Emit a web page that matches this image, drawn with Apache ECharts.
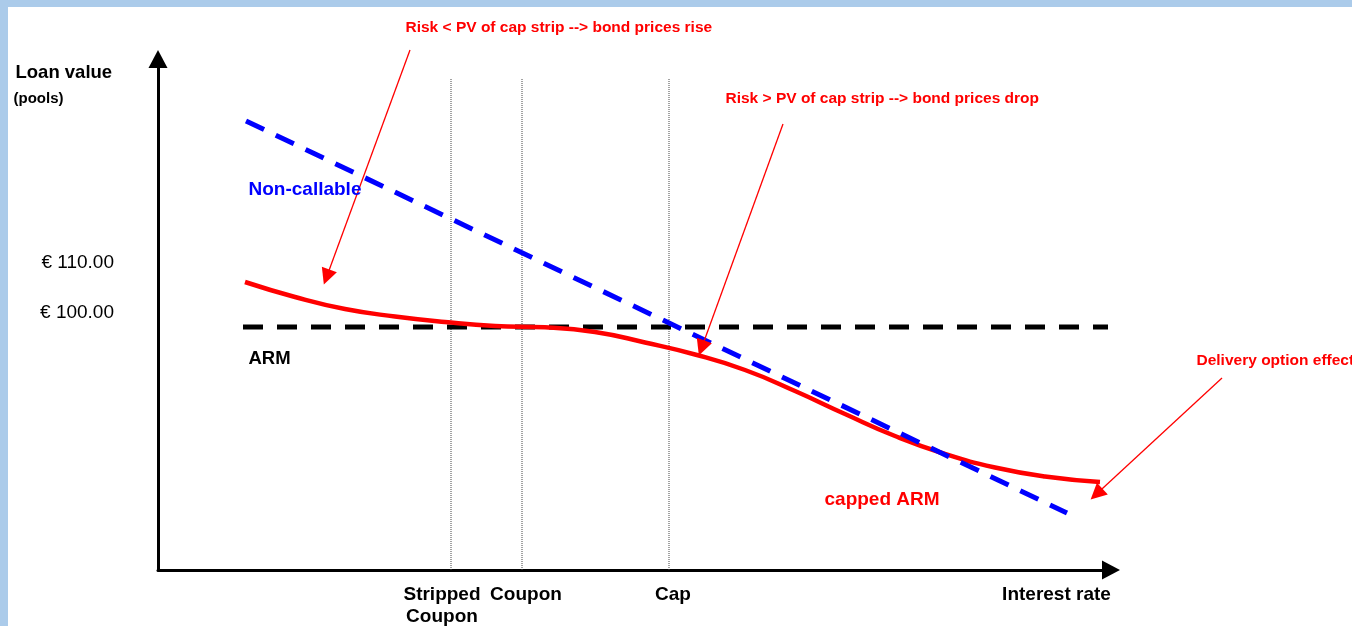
<!DOCTYPE html>
<html><head><meta charset="utf-8">
<script src="https://cdn.jsdelivr.net/npm/echarts@6/dist/echarts.min.js"></script>
<style>
html,body{margin:0;padding:0;width:1352px;height:626px;overflow:hidden;background:#abcbea;}
#panel{position:absolute;left:8px;top:7px;right:0;bottom:0;background:#fff;}
#chart{position:absolute;left:0;top:0;width:1352px;height:626px;}
</style></head><body>
<div id="panel"></div><div id="chart"></div>
<script>
// ---- data (x: interest-rate units, y: loan value) ----
const yTickValues = [110, 100];
const yTickLabels = ['€ 110.00', '€ 100.00'];
const xLabelValues = [28.4, 36.8, 51.5, 89.85];
const xLabelTexts = ['Stripped\nCoupon', 'Coupon', 'Cap', 'Interest rate'];
const markerRates = [29.3, 36.4, 51.1];          // stripped coupon, coupon, cap
const markerTop = 147;
const nonCallable = [[8.8, 138.4], [90.9, 60.0]];
const armLine = [[8.5, 97.2], [95.0, 97.2]];
const cappedArm = [
  [8.7, 106.2], [13.7, 103.2], [18.7, 100.8], [23.7, 99.3], [28.7, 98.2],
  [33.7, 97.4], [38.7, 97.14], [43.7, 96.2], [48.7, 94.1], [53.7, 91.7],
  [58.7, 88.6], [63.7, 84.4], [68.7, 79.8], [73.7, 75.4], [78.7, 71.8],
  [83.7, 69.1], [88.7, 67.3], [94.2, 66.2]
];
const noteTexts = ['Risk < PV of cap strip --> bond prices rise', 'Risk > PV of cap strip --> bond prices drop', 'Delivery option effect'];
const notePos = [[24.7, 157.0], [56.7, 142.8], [103.8, 90.4]];
const arrowFrom = [[25.2, 152.6], [62.5, 137.8], [106.4, 87.0]];
const arrowTo = [[16.86, 107.2], [54.36, 93.0], [93.85, 63.8]];
const seriesNames = ['Non-callable', 'ARM', 'capped ARM'];
const seriesNamePos = [[9.0, 124.6], [9.0, 90.8], [66.6, 62.6]];
const axisTitle = ['Loan value', '(pools)'];
const axisTitlePos = [[-14.3, 148.0], [-14.5, 142.8]];

// ---- chart ----
const FONT = '"Liberation Sans", Arial, Helvetica, sans-serif';
const Y_MIN = 48.6, Y_MAX = 150.8, X_MIN = 0, X_MAX = 95.3;
const near = (a, b) => Math.abs(a - b) < 1e-6;
const chart = echarts.init(document.getElementById('chart'));

const series = [];
markerRates.forEach(x => series.push({
  type: 'line', data: [[x, Y_MIN], [x, markerTop]], symbol: 'none', silent: true, z: 1,
  lineStyle: { color: '#444', width: 1, type: [1, 1] }
}));
series.push({ type: 'line', name: seriesNames[1], data: armLine, symbol: 'none', z: 2,
  lineStyle: { color: '#000', width: 5, type: [20, 14] } });
series.push({ type: 'line', name: seriesNames[2], data: cappedArm, symbol: 'none', smooth: 0.5,
  z: 3, lineStyle: { color: '#ff0000', width: 4.5 } });
series.push({ type: 'line', name: seriesNames[0], data: nonCallable, symbol: 'none', z: 4,
  lineStyle: { color: '#0000ff', width: 5, type: [20, 13] } });
series.push({ type: 'lines', coordinateSystem: 'cartesian2d', clip: false, z: 5,
  data: arrowFrom.map((f, i) => ({ coords: [f, arrowTo[i]] })),
  symbol: ['none', 'triangle'], symbolSize: 16,
  lineStyle: { color: '#ff0000', width: 1.3, opacity: 1, curveness: 0 } });

function textSeries(texts, pos, color, size) {
  return { type: 'scatter', clip: false, silent: true, z: 6, symbolSize: 1,
    itemStyle: { color: 'rgba(0,0,0,0)', opacity: 1 },
    data: pos.map((p, i) => ({ value: p, label: { formatter: texts[i] } })),
    label: { show: true, position: 'right', distance: 0, color: color, fontSize: size,
      fontWeight: 'bold', fontFamily: FONT, opacity: 1 } };
}
series.push(textSeries(noteTexts, notePos, '#ff0000', 15.5));
series.push(textSeries([seriesNames[0]], [seriesNamePos[0]], '#0000ff', 19));
series.push(textSeries([seriesNames[1]], [seriesNamePos[1]], '#000', 18.5));
series.push(textSeries([seriesNames[2]], [seriesNamePos[2]], '#ff0000', 19));
series.push(textSeries([axisTitle[0]], [axisTitlePos[0]], '#000', 18.5));
series.push(textSeries([axisTitle[1]], [axisTitlePos[1]], '#000', 15));

chart.setOption({
  animation: false,
  backgroundColor: 'transparent',
  grid: { left: 158, right: 241, top: 59, bottom: 56, containLabel: false, outerBoundsMode: 'none' },
  xAxis: {
    type: 'value', min: X_MIN, max: X_MAX,
    axisLine: { show: true, symbol: ['none', 'triangle'], symbolSize: [19, 18],
      lineStyle: { color: '#000', width: 3 } },
    axisTick: { show: false }, splitLine: { show: false },
    axisLabel: { customValues: xLabelValues, margin: 14, color: '#000', fontSize: 19, lineHeight: 22,
      fontWeight: 'bold', fontFamily: FONT,
      formatter: v => { const i = xLabelValues.findIndex(t => near(t, v)); return i >= 0 ? xLabelTexts[i] : ''; } }
  },
  yAxis: {
    type: 'value', min: Y_MIN, max: Y_MAX,
    axisLine: { show: true, symbol: ['none', 'triangle'], symbolSize: [19, 18],
      lineStyle: { color: '#000', width: 3 } },
    axisTick: { show: false }, splitLine: { show: false },
    axisLabel: { customValues: yTickValues, margin: 44, color: '#000', fontSize: 19,
      fontFamily: FONT,
      formatter: v => { const i = yTickValues.findIndex(t => near(t, v)); return i >= 0 ? yTickLabels[i] : ''; } }
  },
  series: series
});
</script>
</body></html>
